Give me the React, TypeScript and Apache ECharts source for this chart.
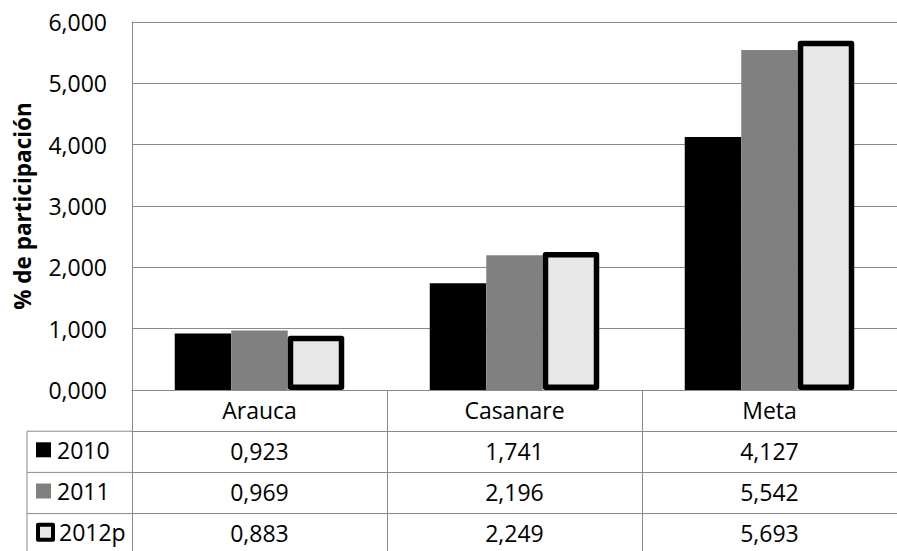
import React, { useEffect, useRef } from "react";
import * as echarts from "echarts";

const categories = ["Arauca", "Casanare", "Meta"];
const seriesNames = ["2010", "2011", "2012p"];
const values2010 = [0.923, 1.741, 4.127];
const values2011 = [0.969, 2.196, 5.542];
const values2012p = [0.883, 2.249, 5.693];
const yMin = 0;
const yMax = 6;
const yInterval = 1;
const yTitle = "% de participación";

const fmt = (v: number) => v.toFixed(3).replace(".", ",");

export default function App() {
  const ref = useRef<HTMLDivElement>(null);
  useEffect(() => {
    if (!ref.current) return;
    const chart = echarts.init(ref.current, undefined, { renderer: "svg" });
    const font = "'Open Sans', 'Noto Sans', sans-serif";
    const gridLeft = 132;
    const gridTop = 22;
    const plotH = 368;
    const rowH = 41.2;
    const tableLeft = 27;
    const lineColor = "#8a8a8a";
    const fs = 23;
    const allSeries = [values2010, values2011, values2012p];
    const legendStyles = [
      { borderWidth: 0 },
      { borderWidth: 0 },
      { borderWidth: 4, borderColor: "#000", color: "#e8e8e8", borderJoin: "round" },
    ];

    const tableAxes = allSeries.map((vals, k) => ({
      type: "category",
      data: categories,
      gridIndex: 0,
      position: "bottom",
      offset: rowH * (k + 1),
      axisLine: { show: true, lineStyle: { color: lineColor, width: 1 } },
      axisTick: { show: true, length: rowH, lineStyle: { color: lineColor } },
      axisLabel: {
        margin: 8,
        color: "#000",
        fontSize: fs,
        fontFamily: font,
        formatter: (_v: string, i: number) => fmt(vals[i]),
      },
    }));

    const yBottom = gridTop + plotH;
    const graphics: any[] = [];
    for (let k = 1; k <= 3; k++) {
      graphics.push({
        type: "line",
        shape: { x1: tableLeft, y1: yBottom + rowH * k, x2: gridLeft, y2: yBottom + rowH * k },
        style: { stroke: lineColor, lineWidth: 1 },
      });
    }
    graphics.push({
      type: "line",
      shape: { x1: tableLeft, y1: yBottom + rowH, x2: tableLeft, y2: 560 },
      style: { stroke: lineColor, lineWidth: 1 },
    });

    const legends = seriesNames.map((n, k) => ({
      orient: "horizontal",
      left: 36,
      top: yBottom + rowH * (k + 1) + rowH / 2 - 13.5,
      padding: 0,
      itemWidth: 15,
      itemHeight: 15,
      icon: "rect",
      selectedMode: false,
      textStyle: { fontSize: fs, color: "#000", fontFamily: font, padding: [0, 0, 0, 1] },
      data: [{ name: n, itemStyle: legendStyles[k] }],
    }));

    chart.setOption({
      animation: false,
      backgroundColor: "#fff",
      textStyle: { fontFamily: font },
      grid: { left: gridLeft, top: gridTop, width: 771, height: plotH },
      legend: legends,
      xAxis: [
        {
          type: "category",
          data: categories,
          gridIndex: 0,
          position: "bottom",
          axisLine: { show: true, lineStyle: { color: lineColor, width: 1 } },
          axisTick: { show: true, length: rowH, lineStyle: { color: lineColor } },
          axisLabel: { margin: 8, color: "#000", fontSize: fs, fontFamily: font },
        },
        ...tableAxes,
      ],
      yAxis: {
        type: "value",
        min: yMin,
        max: yMax,
        interval: yInterval,
        name: yTitle,
        nameLocation: "middle",
        nameRotate: 90,
        nameGap: 98,
        nameTextStyle: { fontSize: 22.5, fontWeight: "bold", color: "#000", fontFamily: font },
        axisLine: { show: true, lineStyle: { color: lineColor, width: 1 } },
        axisTick: { show: false },
        axisLabel: { margin: 25, color: "#000", fontSize: fs, fontFamily: font, formatter: (v: number) => fmt(v) },
        splitLine: { show: true, lineStyle: { color: lineColor, width: 1 } },
      },
      series: [
        {
          type: "bar",
          name: seriesNames[0],
          data: values2010,
          barWidth: 56.5,
          barGap: "0%",
          itemStyle: { color: "#000" },
        },
        {
          type: "bar",
          name: seriesNames[1],
          data: values2011,
          barWidth: 56.5,
          barGap: "0%",
          itemStyle: { color: "#808080" },
        },
        {
          type: "bar",
          name: seriesNames[2],
          data: values2012p,
          barWidth: 56.5,
          barGap: "0%",
          z: 3,
          itemStyle: { color: "#e8e8e8", borderColor: "#000", borderWidth: 5.5, borderJoin: "round" },
        },
      ],
      graphic: graphics,
    });
    return () => chart.dispose();
  }, []);
  return <div ref={ref} style={{ position: "absolute", left: 0, top: 0, width: 897, height: 551 }} />;
}
